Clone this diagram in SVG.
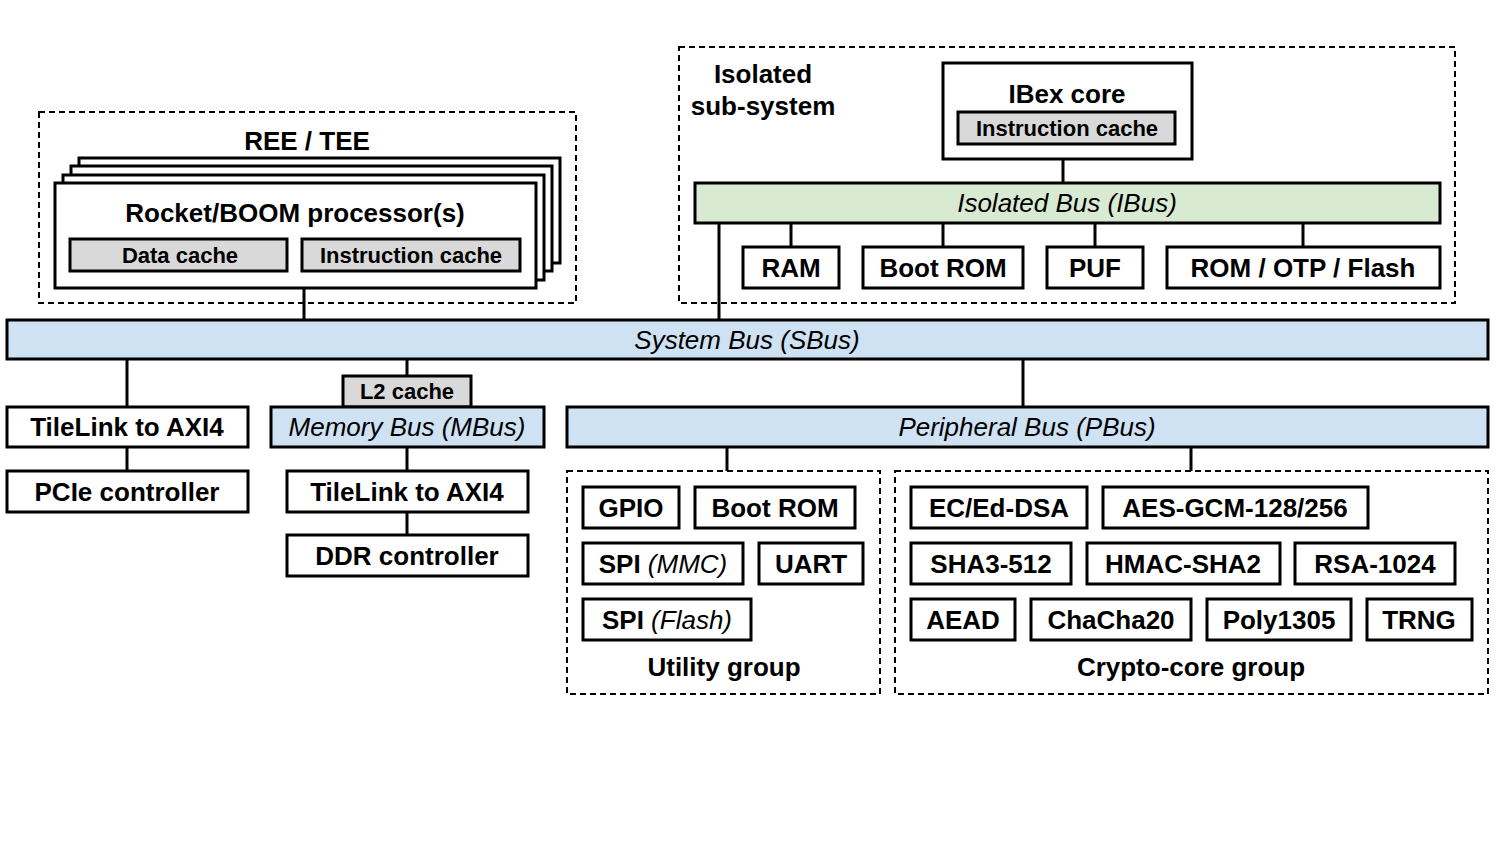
<svg xmlns="http://www.w3.org/2000/svg" width="1511" height="849" viewBox="0 0 1511 849">
<style>
text{font-family:"Liberation Sans",Arial,sans-serif;fill:#000;text-anchor:middle}
.t{font-size:26px;font-weight:bold}
.s{font-size:22px;font-weight:bold}
.i{font-size:26px;font-style:italic}
.box{fill:#fff;stroke:#000;stroke-width:3}
.gray{fill:#d9d9d9;stroke:#000;stroke-width:3}
.blue{fill:#cfe2f3;stroke:#000;stroke-width:3}
.green{fill:#d9ead3;stroke:#000;stroke-width:3}
.dash{fill:none;stroke:#000;stroke-width:2;stroke-dasharray:6 4}
.c line{stroke:#000;stroke-width:3}
</style>
<rect width="1511" height="849" fill="#fff"/>

<g id="ree-tee">
<rect class="dash" x="39" y="112" width="537" height="191"/>
<text class="t" x="307" y="150">REE / TEE</text>
</g>
<g id="isolated-subsystem">
<rect class="dash" x="679" y="47" width="776" height="256"/>
<text class="t" x="763" y="83">Isolated</text>
<text class="t" x="763" y="115">sub-system</text>
</g>
<g id="utility-group">
<rect class="dash" x="567" y="471" width="313" height="223"/>
<text class="t" x="724" y="676">Utility group</text>
</g>
<g id="crypto-group">
<rect class="dash" x="895" y="471" width="593" height="223"/>
<text class="t" x="1191" y="676">Crypto-core group</text>
</g>

<g class="c" id="connectors">
<line x1="304" y1="288" x2="304" y2="320"/>
<line x1="1063" y1="159" x2="1063" y2="183"/>
<line x1="719" y1="223" x2="719" y2="320"/>
<line x1="791" y1="223" x2="791" y2="247"/>
<line x1="943" y1="223" x2="943" y2="247"/>
<line x1="1095" y1="223" x2="1095" y2="247"/>
<line x1="1303" y1="223" x2="1303" y2="247"/>
<line x1="127" y1="359" x2="127" y2="407"/>
<line x1="127" y1="447" x2="127" y2="471"/>
<line x1="407" y1="359" x2="407" y2="376"/>
<line x1="407" y1="447" x2="407" y2="471"/>
<line x1="407" y1="512" x2="407" y2="535"/>
<line x1="1023" y1="359" x2="1023" y2="407"/>
<line x1="727" y1="447" x2="727" y2="471"/>
<line x1="1191" y1="447" x2="1191" y2="471"/>
</g>

<g id="processor">
<rect class="box" x="79" y="158" width="481" height="105"/>
<rect class="box" x="71" y="166" width="481" height="105"/>
<rect class="box" x="63" y="175" width="481" height="105"/>
<rect class="box" x="55" y="183" width="481" height="105"/>
<text class="t" x="295" y="222">Rocket/BOOM processor(s)</text>
</g>
<g id="data-cache">
<rect class="gray" x="70" y="239" width="217" height="32"/>
<text class="s" x="180" y="263">Data cache</text>
</g>
<g id="instr-cache">
<rect class="gray" x="302" y="239" width="218" height="32"/>
<text class="s" x="411" y="263">Instruction cache</text>
</g>

<g id="ibex">
<rect class="box" x="943" y="63" width="249" height="96"/>
<text class="t" x="1067" y="103">IBex core</text>
</g>
<g id="ibex-cache">
<rect class="gray" x="958" y="112" width="217" height="32"/>
<text class="s" x="1067" y="136">Instruction cache</text>
</g>
<g id="ibus">
<rect class="green" x="695" y="183" width="745" height="40"/>
<text class="i" x="1067" y="212">Isolated Bus (IBus)</text>
</g>
<g id="ram"><rect class="box" x="743" y="247" width="96" height="41"/><text class="t" x="791" y="277">RAM</text></g>
<g id="iso-bootrom"><rect class="box" x="863" y="247" width="160" height="41"/><text class="t" x="943" y="277">Boot ROM</text></g>
<g id="puf"><rect class="box" x="1047" y="247" width="96" height="41"/><text class="t" x="1095" y="277">PUF</text></g>
<g id="rom-otp"><rect class="box" x="1167" y="247" width="273" height="41"/><text class="t" x="1303" y="277">ROM / OTP / Flash</text></g>

<g id="sbus">
<rect class="blue" x="7" y="320" width="1481" height="39"/>
<text class="i" x="747" y="349">System Bus (SBus)</text>
</g>

<g id="tl-axi-1"><rect class="box" x="7" y="407" width="241" height="40"/><text class="t" x="127" y="436">TileLink to AXI4</text></g>
<g id="pcie"><rect class="box" x="7" y="471" width="241" height="41"/><text class="t" x="127" y="501">PCIe controller</text></g>
<g id="l2"><rect class="gray" x="343" y="376" width="128" height="31"/><text class="s" x="407" y="399">L2 cache</text></g>
<g id="mbus"><rect class="blue" x="271" y="407" width="273" height="40"/><text class="i" x="407" y="436">Memory Bus (MBus)</text></g>
<g id="tl-axi-2"><rect class="box" x="287" y="471" width="241" height="41"/><text class="t" x="407" y="501">TileLink to AXI4</text></g>
<g id="ddr"><rect class="box" x="287" y="535" width="241" height="41"/><text class="t" x="407" y="565">DDR controller</text></g>

<g id="pbus"><rect class="blue" x="567" y="407" width="921" height="40"/><text class="i" x="1027" y="436">Peripheral Bus (PBus)</text></g>

<g id="gpio"><rect class="box" x="583" y="487" width="96" height="41"/><text class="t" x="631" y="517">GPIO</text></g>
<g id="util-bootrom"><rect class="box" x="695" y="487" width="160" height="41"/><text class="t" x="775" y="517">Boot ROM</text></g>
<g id="spi-mmc"><rect class="box" x="583" y="543" width="160" height="41"/><text class="t" x="663" y="573">SPI <tspan font-weight="normal" font-style="italic">(MMC)</tspan></text></g>
<g id="uart"><rect class="box" x="759" y="543" width="104" height="41"/><text class="t" x="811" y="573">UART</text></g>
<g id="spi-flash"><rect class="box" x="583" y="599" width="168" height="41"/><text class="t" x="667" y="629">SPI <tspan font-weight="normal" font-style="italic">(Flash)</tspan></text></g>

<g id="ecdsa"><rect class="box" x="911" y="487" width="176" height="41"/><text class="t" x="999" y="517">EC/Ed-DSA</text></g>
<g id="aes"><rect class="box" x="1103" y="487" width="265" height="41"/><text class="t" x="1235" y="517">AES-GCM-128/256</text></g>
<g id="sha3"><rect class="box" x="911" y="543" width="160" height="41"/><text class="t" x="991" y="573">SHA3-512</text></g>
<g id="hmac"><rect class="box" x="1087" y="543" width="193" height="41"/><text class="t" x="1183" y="573">HMAC-SHA2</text></g>
<g id="rsa"><rect class="box" x="1295" y="543" width="160" height="41"/><text class="t" x="1375" y="573">RSA-1024</text></g>
<g id="aead"><rect class="box" x="911" y="599" width="104" height="41"/><text class="t" x="963" y="629">AEAD</text></g>
<g id="chacha"><rect class="box" x="1031" y="599" width="160" height="41"/><text class="t" x="1111" y="629">ChaCha20</text></g>
<g id="poly"><rect class="box" x="1207" y="599" width="144" height="41"/><text class="t" x="1279" y="629">Poly1305</text></g>
<g id="trng"><rect class="box" x="1367" y="599" width="105" height="41"/><text class="t" x="1419" y="629">TRNG</text></g>
</svg>
